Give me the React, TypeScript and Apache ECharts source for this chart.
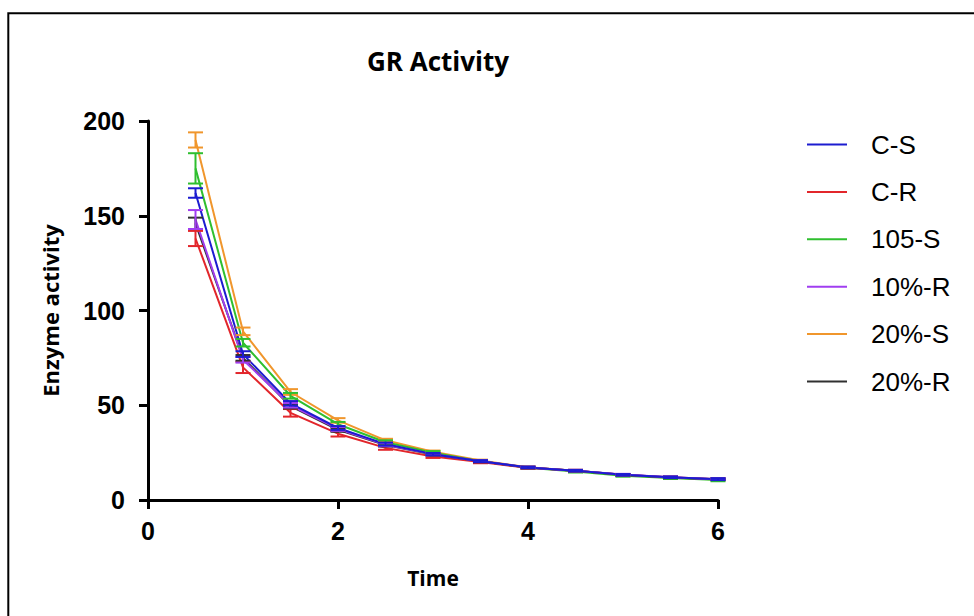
import React, { useEffect, useRef } from "react";
import * as echarts from "echarts";

const times = [0.5, 1, 1.5, 2, 2.5, 3, 3.5, 4, 4.5, 5, 5.5, 6];
const seriesNames = ["C-S", "C-R", "105-S", "10%-R", "20%-S", "20%-R"];
const seriesColors = ["#1c1cd0", "#e2262b", "#2fbf2f", "#a03ef0", "#f0962c", "#303030"];

const csMean = [162, 77, 51, 38, 29.5, 24.2, 20.5, 17.2, 15.5, 13.3, 12, 11];
const crMean = [138, 70, 46, 35, 27.5, 23, 20, 17, 15.5, 13.3, 12, 11];
const s105Mean = [175, 83, 55, 40, 30.5, 25, 20.5, 17, 15, 12.8, 11.6, 10.5];
const r10Mean = [148, 74, 50, 37.5, 29.2, 24.2, 20.5, 17.2, 15.5, 13.4, 12, 11];
const s20Mean = [190, 89, 57, 42, 31.5, 25.5, 20.8, 17.3, 15.5, 13.2, 11.8, 10.8];
const r20Mean = [146, 75, 49.5, 37, 29, 24, 20.4, 17.1, 15.4, 13.3, 11.9, 11];

const csErr = [2.5, 1.5, 1.2, 1, 0.8, 0.6, 0.5, 0.4, 0.4, 0.4, 0.4, 0.5];
const crErr = [4, 3, 2, 1.5, 1, 0.8, 0.6, 0.5, 0.4, 0.4, 0.4, 0.4];
const s105Err = [8, 2, 1.5, 1.2, 1, 0.8, 0.6, 0.5, 0.5, 0.5, 0.5, 0.6];
const r10Err = [5, 1.5, 1.2, 1, 0.8, 0.6, 0.5, 0.4, 0.4, 0.4, 0.4, 0.4];
const s20Err = [4, 2, 1.5, 1.2, 0.8, 0.6, 0.5, 0.4, 0.4, 0.4, 0.4, 0.4];
const r20Err = [3, 1.5, 1.2, 1, 0.8, 0.6, 0.5, 0.4, 0.4, 0.4, 0.4, 0.4];

const yTicks = [0, 50, 100, 150, 200];
const xTicks = [0, 2, 4, 6];

const means = [csMean, crMean, s105Mean, r10Mean, s20Mean, r20Mean];
const errs = [csErr, crErr, s105Err, r10Err, s20Err, r20Err];
// drawing order (last on top)
const drawOrder = [4, 2, 1, 5, 3, 0];

export default function App() {
  const ref = useRef<HTMLDivElement>(null);
  useEffect(() => {
    if (!ref.current) return;
    const chart = echarts.init(ref.current, null, { renderer: "svg" });
    const series: any[] = [];
    drawOrder.forEach((i) => {
      const color = seriesColors[i];
      series.push({
        name: seriesNames[i],
        type: "line",
        data: times.map((t, k) => [t, means[i][k]]),
        showSymbol: false,
        symbol: "none",
        lineStyle: { color, width: 2 },
        itemStyle: { color },
        z: 2,
      });
      series.push({
        name: seriesNames[i],
        type: "custom",
        data: times.map((t, k) => [t, means[i][k], errs[i][k]]),
        z: 3,
        renderItem: (params: any, api: any) => {
          const x = api.value(0);
          const m = api.value(1);
          const e = api.value(2);
          const top = api.coord([x, m + e]);
          const bot = api.coord([x, m - e]);
          const hw = 7.5;
          const style = { stroke: color, lineWidth: 2 };
          return {
            type: "group",
            children: [
              { type: "line", shape: { x1: top[0], y1: top[1], x2: bot[0], y2: bot[1] }, style },
              { type: "line", shape: { x1: top[0] - hw, y1: top[1], x2: top[0] + hw, y2: top[1] }, style },
              { type: "line", shape: { x1: bot[0] - hw, y1: bot[1], x2: bot[0] + hw, y2: bot[1] }, style },
            ],
          };
        },
      });
    });

    chart.setOption({
      animation: false,
      backgroundColor: "#ffffff",
      title: {
        text: "GR Activity",
        left: 433,
        top: 43,
        textAlign: "center",
        textStyle: { fontFamily: "Open Sans", fontWeight: "bold", fontSize: 26, color: "#000" },
      },
      legend: {
        orient: "vertical",
        left: 807,
        top: 130,
        padding: 0,
        itemWidth: 40,
        itemHeight: 2,
        itemGap: 18.4,
        icon: "rect",
        data: seriesNames.map((n, i) => ({ name: n, itemStyle: { color: seriesColors[i] } })),
        textStyle: {
          fontFamily: "Liberation Sans",
          fontSize: 26,
          color: "#000",
          padding: [0, 0, 0, 19],
          lineHeight: 29,
        },
        selectedMode: false,
      },
      grid: { left: 148, top: 121, width: 570, height: 379, containLabel: false },
      xAxis: {
        type: "value",
        min: 0,
        max: 6,
        interval: 2,
        name: "Time",
        nameLocation: "middle",
        nameGap: 67,
        nameTextStyle: { fontFamily: "Open Sans", fontWeight: "bold", fontSize: 21, color: "#000" },
        axisLine: { show: true, lineStyle: { color: "#000", width: 3 } },
        axisTick: { show: true, length: 9, lineStyle: { color: "#000", width: 3 } },
        axisLabel: {
          margin: 18,
          fontFamily: "Liberation Sans",
          fontWeight: "bold",
          fontSize: 25,
          color: "#000",
          formatter: (v: number) => (xTicks.includes(v) ? String(v) : ""),
        },
        splitLine: { show: false },
      },
      yAxis: {
        type: "value",
        min: 0,
        max: 200,
        interval: 50,
        name: "Enzyme activity",
        nameLocation: "middle",
        nameGap: 87,
        nameTextStyle: { fontFamily: "Open Sans", fontWeight: "bold", fontSize: 22, color: "#000" },
        axisLine: { show: true, lineStyle: { color: "#000", width: 3 } },
        axisTick: { show: true, length: 9, lineStyle: { color: "#000", width: 3 } },
        axisLabel: {
          margin: 23,
          fontFamily: "Liberation Sans",
          fontWeight: "bold",
          fontSize: 25,
          color: "#000",
          formatter: (v: number) => (yTicks.includes(v) ? String(v) : ""),
        },
        splitLine: { show: false },
      },
      graphic: [
        {
          type: "rect",
          shape: { x: 8.3, y: 13.2, width: 980, height: 620 },
          style: { fill: "none", stroke: "#000", lineWidth: 2 },
          silent: true,
          z: 100,
        },
      ],
      series,
    });
    return () => chart.dispose();
  }, []);
  return (
    <div
      ref={ref}
      style={{ position: "absolute", left: 0, top: 0, width: 974, height: 616 }}
    />
  );
}
